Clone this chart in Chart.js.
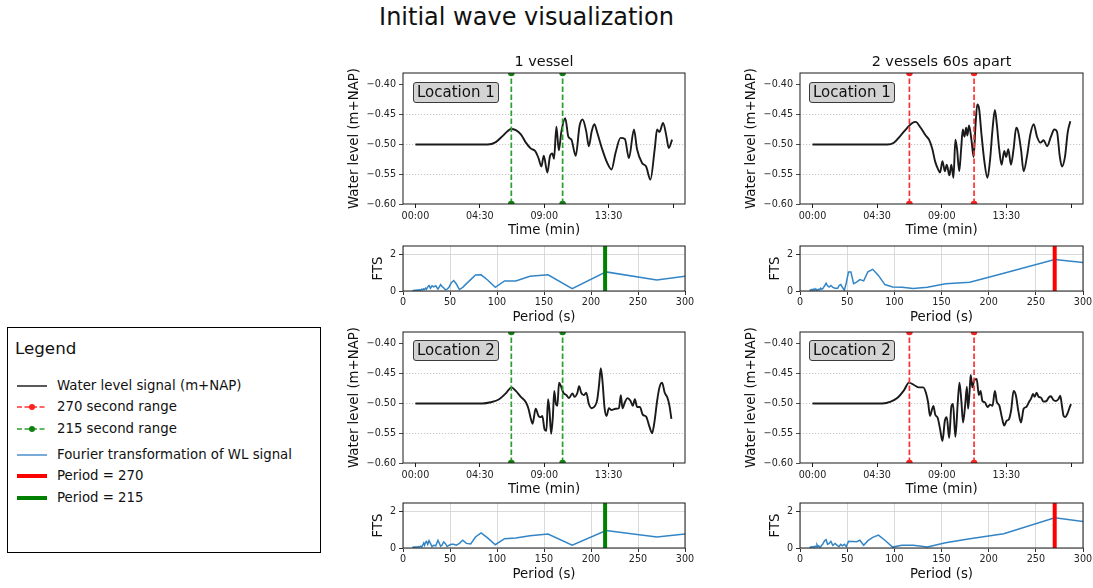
<!DOCTYPE html>
<html>
<head>
<meta charset="utf-8">
<script src="https://cdn.jsdelivr.net/npm/chart.js@4.4.1/dist/chart.umd.min.js"></script>
<style>
  html, body { margin: 0; padding: 0; background: #fff; }
  #fig { position: relative; width: 1093px; height: 588px; overflow: hidden; background: #fff;
         font-family: 'DejaVu Sans', sans-serif; color: #111; }
  #fig canvas { position: absolute; }
  .suptitle { position: absolute; left: 0; width: 1053px; top: 3px; line-height: 28px; font-size: 24px;
              text-align: center; white-space: nowrap; }
  .loc { position: absolute; box-sizing: border-box; width: 86px; height: 21px; padding-left: 3px;
         line-height: 19px; font-size: 15px; background: #d3d3d3; border: 1px solid #3a3a3a;
         border-radius: 3px; white-space: nowrap; z-index: 5; }
  .legend { position: absolute; left: 7px; top: 327px; width: 312px; height: 224px; border: 1px solid #000;
            box-sizing: content-box; }
  .legend .ttl { position: absolute; left: 7px; top: 10px; font-size: 16.7px; line-height: 20px; white-space: nowrap; }
  .legend .row { position: absolute; left: 0; height: 16px; width: 312px; }
  .legend .row svg { position: absolute; left: 9px; top: 3px; }
  .legend .row span { position: absolute; left: 49px; top: 0; font-size: 13.3px; line-height: 16px; white-space: nowrap; }
</style>
</head>
<body>
<div id="fig">
  <div class="suptitle">Initial wave visualization</div>

  <div class="legend">
    <div class="ttl">Legend</div>
    <div class="row" style="top:50px">
      <svg width="30" height="10"><line x1="0" y1="5" x2="30" y2="5" stroke="#222" stroke-width="1.5"/></svg>
      <span>Water level signal (m+NAP)</span>
    </div>
    <div class="row" style="top:71px">
      <svg width="30" height="10"><line x1="0" y1="5" x2="30" y2="5" stroke="#ff3333" stroke-width="1.5" stroke-dasharray="5 2.5"/><circle cx="15" cy="5" r="3" fill="#ff2020"/></svg>
      <span>270 second range</span>
    </div>
    <div class="row" style="top:92.5px">
      <svg width="30" height="10"><line x1="0" y1="5" x2="30" y2="5" stroke="#2ca02c" stroke-width="1.5" stroke-dasharray="5 2.5"/><circle cx="15" cy="5" r="3" fill="#108010"/></svg>
      <span>215 second range</span>
    </div>
    <div class="row" style="top:119px">
      <svg width="30" height="10"><line x1="0" y1="5" x2="30" y2="5" stroke="#4a90cc" stroke-width="1.5"/></svg>
      <span>Fourier transformation of WL signal</span>
    </div>
    <div class="row" style="top:139.5px">
      <svg width="30" height="10"><line x1="0" y1="5" x2="30" y2="5" stroke="#ff0000" stroke-width="4"/></svg>
      <span>Period = 270</span>
    </div>
    <div class="row" style="top:161.5px">
      <svg width="30" height="10"><line x1="0" y1="5" x2="30" y2="5" stroke="#008000" stroke-width="4"/></svg>
      <span>Period = 215</span>
    </div>
  </div>

  <div class="loc" style="left:413px; top:82px;">Location 1</div>
  <div class="loc" style="left:809px; top:82px;">Location 1</div>
  <div class="loc" style="left:413px; top:340px;">Location 2</div>
  <div class="loc" style="left:809px; top:340px;">Location 2</div>
</div>

<script>
// ---------------- data ----------------
const timeTicks = [0, 270, 540, 810, 1080];
const timeTickLabels = ['00:00', '04:30', '09:00', '13:30', ''];
const wlTicks = [-0.60, -0.55, -0.50, -0.45, -0.40];
const wlTickLabels = ['\u22120.60', '\u22120.55', '\u22120.50', '\u22120.45', '\u22120.40'];
const wlGridLevels = [-0.55, -0.50, -0.45];
const wlMin = -0.60;
const wlMax = -0.38;
const periodTicks = [0, 50, 100, 150, 200, 250, 300];
const ftsTicks = [0, 2];
const ftsMax = 2.45;

// 1 vessel, location 1
const tV1L1 = [0, 302, 337, 365, 386, 400, 421, 442, 463, 484, 502, 516, 528, 538, 553, 564, 574, 581, 591, 601, 612, 628, 641, 654, 672, 688, 701, 716, 727, 739, 750, 762, 783, 804, 822, 839, 860, 878, 895, 916, 929, 950, 967, 985, 1003, 1013, 1023, 1038, 1052, 1062, 1076];
const wlV1L1 = [-0.500, -0.500, -0.496, -0.486, -0.478, -0.474, -0.476, -0.483, -0.497, -0.507, -0.511, -0.523, -0.537, -0.519, -0.547, -0.520, -0.515, -0.524, -0.470, -0.510, -0.478, -0.456, -0.487, -0.492, -0.519, -0.469, -0.458, -0.478, -0.503, -0.478, -0.466, -0.480, -0.508, -0.531, -0.542, -0.514, -0.489, -0.491, -0.523, -0.475, -0.508, -0.531, -0.537, -0.559, -0.508, -0.475, -0.479, -0.464, -0.486, -0.506, -0.492];

// 2 vessels 60s apart, location 1
const tV2L1 = [0, 313, 340, 368, 396, 417, 431, 452, 473, 487, 501, 512, 525, 533, 543, 553, 561, 572, 580, 589, 597, 604, 613, 621, 628, 635, 642, 647, 654, 664, 673, 681, 688, 696, 706, 717, 731, 742, 752, 762, 770, 780, 790, 801, 809, 818, 829, 840, 851, 859, 871, 882, 896, 910, 924, 938, 952, 966, 980, 996, 1010, 1021, 1033, 1042, 1055, 1066, 1077];
const wlV2L1 = [-0.500, -0.500, -0.497, -0.485, -0.472, -0.464, -0.462, -0.472, -0.485, -0.492, -0.508, -0.528, -0.542, -0.547, -0.528, -0.545, -0.534, -0.552, -0.534, -0.556, -0.492, -0.508, -0.545, -0.508, -0.475, -0.487, -0.472, -0.485, -0.468, -0.492, -0.521, -0.469, -0.433, -0.440, -0.483, -0.525, -0.556, -0.525, -0.475, -0.442, -0.466, -0.508, -0.534, -0.511, -0.521, -0.508, -0.534, -0.508, -0.472, -0.478, -0.508, -0.545, -0.520, -0.483, -0.466, -0.487, -0.497, -0.493, -0.503, -0.487, -0.475, -0.478, -0.520, -0.537, -0.520, -0.480, -0.461];

// 1 vessel, location 2
const tV1L2 = [0, 281, 316, 351, 379, 403, 421, 442, 463, 474, 484, 491, 504, 516, 525, 532, 541, 549, 556, 562, 569, 576, 582, 589, 595, 602, 610, 620, 633, 644, 658, 667, 679, 686, 695, 706, 716, 727, 739, 753, 762, 770, 777, 784, 793, 801, 811, 822, 839, 853, 861, 868, 878, 889, 902, 911, 920, 929, 941, 953, 967, 981, 992, 1003, 1013, 1023, 1034, 1045, 1056, 1065, 1073];
const wlV1L2 = [-0.500, -0.500, -0.498, -0.493, -0.483, -0.473, -0.479, -0.489, -0.498, -0.509, -0.526, -0.534, -0.509, -0.521, -0.523, -0.521, -0.543, -0.546, -0.493, -0.512, -0.551, -0.523, -0.479, -0.501, -0.504, -0.465, -0.471, -0.482, -0.486, -0.491, -0.483, -0.489, -0.482, -0.471, -0.482, -0.486, -0.482, -0.501, -0.508, -0.504, -0.494, -0.468, -0.441, -0.462, -0.508, -0.521, -0.508, -0.511, -0.509, -0.508, -0.486, -0.508, -0.498, -0.491, -0.496, -0.504, -0.493, -0.506, -0.506, -0.519, -0.522, -0.539, -0.550, -0.528, -0.496, -0.473, -0.465, -0.482, -0.490, -0.504, -0.526];

// 2 vessels 60s apart, location 2
const tV2L2 = [0, 292, 327, 354, 382, 403, 424, 445, 463, 474, 483, 491, 498, 505, 513, 523, 533, 543, 553, 561, 571, 580, 587, 597, 607, 614, 622, 629, 638, 645, 650, 656, 661, 668, 675, 686, 695, 702, 710, 720, 731, 742, 752, 762, 770, 781, 791, 801, 811, 820, 830, 840, 850, 860, 871, 882, 893, 904, 914, 921, 928, 936, 945, 954, 965, 977, 987, 996, 1006, 1017, 1027, 1035, 1042, 1049, 1056, 1065, 1073, 1080];
const wlV2L2 = [-0.500, -0.500, -0.497, -0.491, -0.478, -0.465, -0.469, -0.473, -0.473, -0.482, -0.498, -0.521, -0.512, -0.504, -0.519, -0.524, -0.543, -0.563, -0.529, -0.523, -0.558, -0.506, -0.501, -0.556, -0.498, -0.465, -0.496, -0.532, -0.502, -0.472, -0.509, -0.482, -0.452, -0.473, -0.462, -0.459, -0.486, -0.479, -0.496, -0.498, -0.506, -0.502, -0.504, -0.479, -0.497, -0.504, -0.523, -0.537, -0.529, -0.527, -0.511, -0.479, -0.487, -0.513, -0.532, -0.509, -0.506, -0.498, -0.491, -0.484, -0.489, -0.482, -0.489, -0.490, -0.497, -0.496, -0.490, -0.488, -0.494, -0.496, -0.493, -0.487, -0.504, -0.521, -0.523, -0.517, -0.508, -0.501];

// Fourier spectra (period in s)
const periods = [10, 11, 12, 13, 14, 15, 16, 17, 18, 19, 20, 21, 22, 23, 24, 25, 26.3, 27.7, 29.2, 30.9, 32.7, 34.8, 37.2, 40, 41.5, 43.2, 45, 47, 49.1, 51.4, 54, 56.8, 60, 63.5, 67.5, 72, 77.1, 83.1, 90, 98.2, 108, 120, 135, 154.3, 180, 216, 270, 360];
const ftsV1L1 = [0.03, 0.02, 0.04, 0.03, 0.05, 0.02, 0.06, 0.04, 0.08, 0.05, 0.10, 0.06, 0.12, 0.08, 0.15, 0.10, 0.22, 0.30, 0.15, 0.28, 0.22, 0.28, 0.10, 0.35, 0.25, 0.18, 0.07, 0.10, 0.22, 0.45, 0.57, 0.38, 0.08, 0.20, 0.40, 0.62, 0.87, 0.88, 0.60, 0.20, 0.55, 0.55, 0.80, 0.88, 0.13, 1.04, 0.60, 1.20];
const ftsV2L1 = [0.05, 0.04, 0.08, 0.03, 0.10, 0.05, 0.12, 0.06, 0.08, 0.05, 0.10, 0.07, 0.15, 0.10, 0.12, 0.20, 0.30, 0.42, 0.28, 0.22, 0.30, 0.20, 0.15, 0.15, 0.30, 0.35, 0.20, 0.04, 0.45, 1.04, 1.04, 0.40, 0.48, 0.62, 0.55, 1.05, 1.18, 0.85, 0.35, 0.22, 0.20, 0.13, 0.20, 0.40, 0.48, 0.97, 1.72, 1.20];
const ftsV1L2 = [0.04, 0.05, 0.03, 0.06, 0.04, 0.07, 0.05, 0.08, 0.06, 0.10, 0.06, 0.15, 0.27, 0.15, 0.32, 0.36, 0.20, 0.40, 0.25, 0.08, 0.15, 0.12, 0.42, 0.10, 0.15, 0.33, 0.25, 0.08, 0.15, 0.20, 0.20, 0.15, 0.25, 0.42, 0.25, 0.22, 0.60, 0.82, 0.55, 0.18, 0.51, 0.55, 0.67, 0.76, 0.15, 0.95, 0.60, 1.10];
const ftsV2L2 = [0.04, 0.03, 0.06, 0.05, 0.08, 0.04, 0.10, 0.07, 0.18, 0.08, 0.12, 0.05, 0.06, 0.15, 0.20, 0.30, 0.40, 0.45, 0.20, 0.25, 0.36, 0.15, 0.25, 0.12, 0.08, 0.20, 0.12, 0.20, 0.08, 0.36, 0.35, 0.36, 0.34, 0.42, 0.15, 0.40, 0.58, 0.70, 0.42, 0.05, 0.15, 0.15, 0.05, 0.28, 0.50, 0.78, 1.64, 1.05];

// highlighted ranges / periods
const range215 = [402, 617];
const range270 = [405, 675];
const period215 = 215;
const period270 = 270;

// ---------------- drawing ----------------
Chart.defaults.font.family = "'DejaVu Sans', sans-serif";
Chart.defaults.color = '#222';
Chart.defaults.animation = false;

const INK = '#1a1a1a';
const GREEN_DASH = '#2ca02c', GREEN_DOT = '#108010', GREEN = '#008000';
const RED_DASH = '#ff3333', RED_DOT = '#ff2020', RED = '#ff0000';
const BLUE = '#3385c6';

const framePlugin = {
  id: 'frame',
  afterDatasetsDraw(chart) {
    const a = chart.chartArea, c = chart.ctx;
    c.save();
    c.strokeStyle = INK;
    c.lineWidth = 1;
    c.strokeRect(a.left, a.top, a.right - a.left, a.bottom - a.top);
    c.restore();
  }
};

function makeCanvas(area, titled) {
  const cl = area.L - 63, ct = titled ? area.T - 29 : area.T - 12;
  const cr = area.R + 14, cb = area.B + 38;
  const c = document.createElement('canvas');
  c.width = cr - cl; c.height = cb - ct;
  c.style.left = cl + 'px'; c.style.top = ct + 'px';
  c.style.width = (cr - cl) + 'px'; c.style.height = (cb - ct) + 'px';
  document.getElementById('fig').appendChild(c);
  return { canvas: c, padTop: titled ? 0 : 12 };
}

const axisTitleFont = { size: 13.3 };
const tickFont = { size: 9.6 };

function wlChart(area, title, t, v, rng, dashColor, dotColor) {
  const { canvas, padTop } = makeCanvas(area, !!title);
  const rangeSets = rng.map(r => ({
    data: [{ x: r, y: wlMin }, { x: r, y: wlMax }],
    borderColor: dashColor, borderWidth: 1.7, borderDash: [5.5, 2.5],
    pointRadius: 3.3, pointBackgroundColor: dotColor, pointBorderWidth: 0,
    clip: 0, order: 0
  }));
  return new Chart(canvas, {
    type: 'line',
    data: {
      datasets: rangeSets.concat([{
        data: t.map((x, i) => ({ x, y: v[i] })),
        borderColor: '#1a1a1a', borderWidth: 1.9, pointRadius: 0,
        cubicInterpolationMode: 'monotone', order: 1
      }])
    },
    options: {
      responsive: false, devicePixelRatio: 1, events: [],
      layout: { padding: { top: padTop, right: 14, left: 0, bottom: 0 } },
      plugins: {
        legend: { display: false }, tooltip: { enabled: false },
        title: title ? { display: true, text: title, fullSize: false, color: '#111',
                         font: { size: 14.4, weight: 'normal' }, padding: { top: 9.4, bottom: 2.32 } }
                     : { display: false }
      },
      scales: {
        x: {
          type: 'linear', min: -52, max: 1130,
          afterBuildTicks: s => { s.ticks = timeTicks.map(value => ({ value })); },
          afterFit: s => { s.height = 38; },
          ticks: { callback: (val, i) => timeTickLabels[i], font: tickFont, padding: 3, maxRotation: 0, autoSkip: false },
          grid: { drawOnChartArea: false, drawTicks: true, tickLength: 4, tickColor: INK },
          border: { display: false },
          title: { display: true, text: 'Time (min)', font: axisTitleFont, color: '#111', padding: { top: 0, bottom: 3 } }
        },
        y: {
          type: 'linear', min: wlMin, max: wlMax,
          afterBuildTicks: s => { s.ticks = wlTicks.map(value => ({ value })); },
          afterFit: s => { s.width = 63; },
          ticks: { callback: (val, i) => wlTickLabels[i], font: tickFont, padding: 3, autoSkip: false },
          grid: {
            color: ctx => (ctx.tick && wlGridLevels.some(g => Math.abs(g - ctx.tick.value) < 1e-6)) ? '#b8b8b8' : 'rgba(0,0,0,0)',
            lineWidth: 0.8, drawTicks: true, tickLength: 4, tickColor: INK
          },
          border: { display: false, dash: [1.2, 1.8] },
          title: { display: true, text: 'Water level (m+NAP)', font: axisTitleFont, color: '#111', padding: { top: 6.5, bottom: 0 } }
        }
      }
    },
    plugins: [framePlugin]
  });
}

function ftsChart(area, values, period, barColor) {
  const { canvas, padTop } = makeCanvas(area, false);
  return new Chart(canvas, {
    type: 'line',
    data: {
      datasets: [
        { data: [{ x: period, y: 0 }, { x: period, y: ftsMax }], borderColor: barColor, borderWidth: 4,
          pointRadius: 0, order: 0 },
        { data: periods.map((x, i) => ({ x, y: values[i] })), borderColor: BLUE, borderWidth: 1.5,
          pointRadius: 0, tension: 0, order: 1 }
      ]
    },
    options: {
      responsive: false, devicePixelRatio: 1, events: [],
      layout: { padding: { top: padTop, right: 14, left: 0, bottom: 0 } },
      plugins: { legend: { display: false }, tooltip: { enabled: false }, title: { display: false } },
      scales: {
        x: {
          type: 'linear', min: 0, max: 300,
          afterBuildTicks: s => { s.ticks = periodTicks.map(value => ({ value })); },
          afterFit: s => { s.height = 38; },
          ticks: { callback: val => String(val), font: tickFont, padding: 2, maxRotation: 0, autoSkip: false },
          grid: { color: '#d6d6d6', lineWidth: 0.9, drawTicks: true, tickLength: 4, tickColor: INK },
          border: { display: false },
          title: { display: true, text: 'Period (s)', font: axisTitleFont, color: '#111', padding: { top: 0, bottom: 3 } }
        },
        y: {
          type: 'linear', min: 0, max: ftsMax,
          afterBuildTicks: s => { s.ticks = ftsTicks.map(value => ({ value })); },
          afterFit: s => { s.width = 63; },
          ticks: { callback: val => String(val), font: tickFont, padding: 3 },
          grid: { color: '#d6d6d6', lineWidth: 0.9, drawTicks: true, tickLength: 4, tickColor: INK },
          border: { display: false },
          title: { display: true, text: 'FTS', font: axisTitleFont, color: '#111', padding: { top: 30.5, bottom: 0 } }
        }
      }
    },
    plugins: [framePlugin]
  });
}

wlChart({ L: 403, R: 685, T: 73, B: 204 }, '1 vessel', tV1L1, wlV1L1, range215, GREEN_DASH, GREEN_DOT);
wlChart({ L: 800, R: 1083, T: 73, B: 204 }, '2 vessels 60s apart', tV2L1, wlV2L1, range270, RED_DASH, RED_DOT);
ftsChart({ L: 403, R: 685, T: 246, B: 291 }, ftsV1L1, period215, GREEN);
ftsChart({ L: 800, R: 1083, T: 246, B: 291 }, ftsV2L1, period270, RED);
wlChart({ L: 403, R: 685, T: 332, B: 463 }, null, tV1L2, wlV1L2, range215, GREEN_DASH, GREEN_DOT);
wlChart({ L: 800, R: 1083, T: 332, B: 463 }, null, tV2L2, wlV2L2, range270, RED_DASH, RED_DOT);
ftsChart({ L: 403, R: 685, T: 503, B: 548 }, ftsV1L2, period215, GREEN);
ftsChart({ L: 800, R: 1083, T: 503, B: 548 }, ftsV2L2, period270, RED);
</script>
</body>
</html>
